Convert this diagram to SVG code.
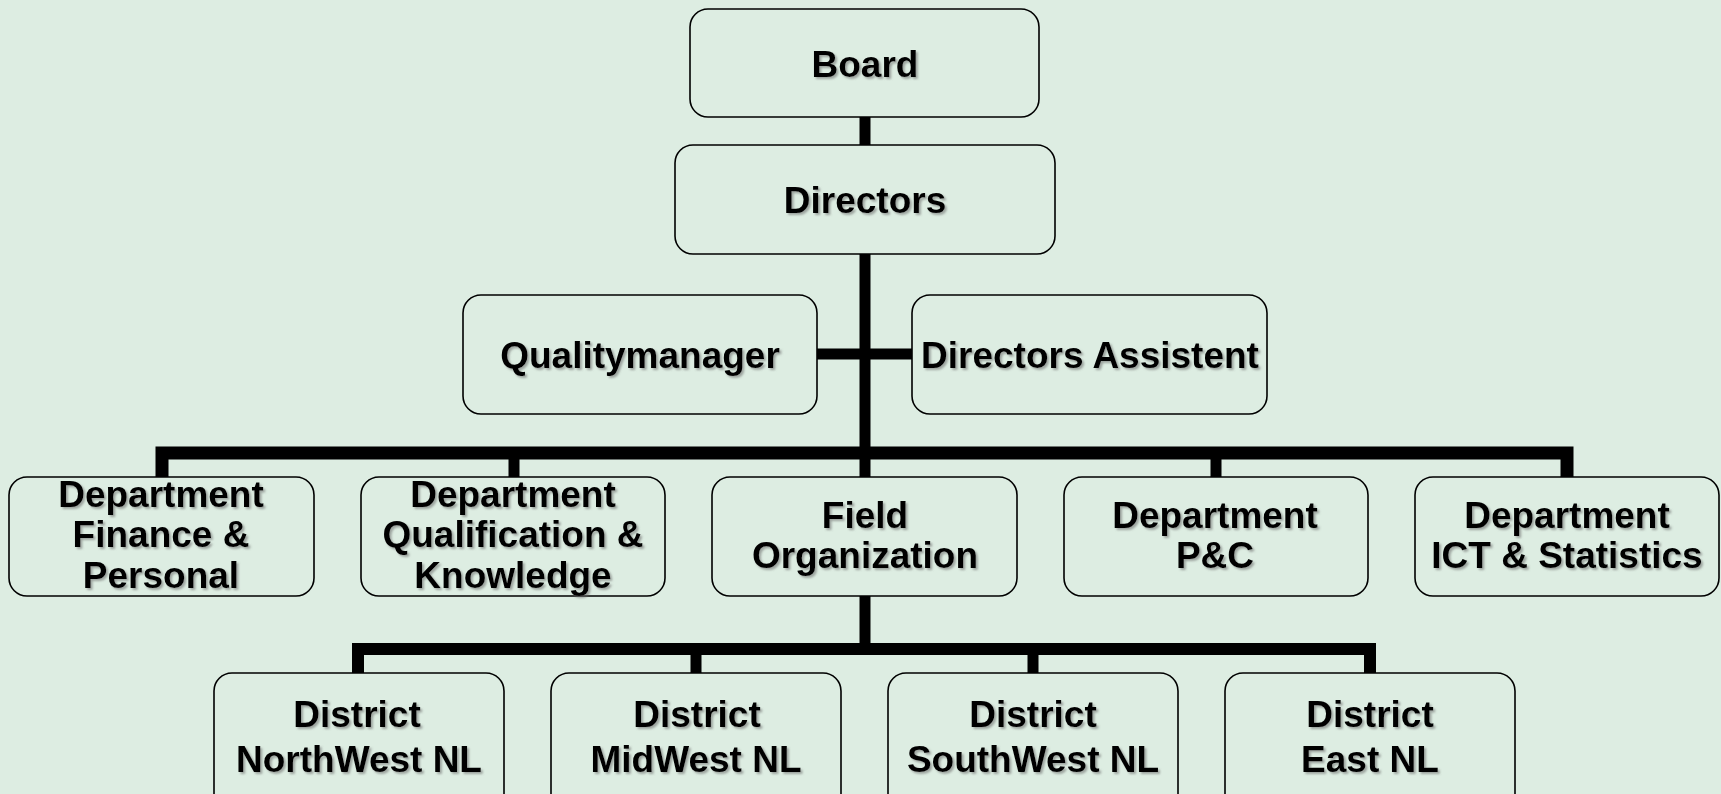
<svg xmlns="http://www.w3.org/2000/svg" width="1721" height="794" viewBox="0 0 1721 794">
<defs>
<filter id="sh" x="-10%" y="-20%" width="120%" height="150%">
<feDropShadow dx="2" dy="2" stdDeviation="1" flood-color="#666" flood-opacity="0.55"/>
</filter>
<style>
.box{fill:#ddede2;stroke:#000;stroke-width:1.6}
.t{font-family:"Liberation Sans",Arial,sans-serif;font-weight:bold;font-size:37px;fill:#000;text-anchor:middle;filter:url(#sh)}
.c{fill:none;stroke:#000;stroke-linecap:butt}
</style>
</defs>
<rect width="1721" height="794" fill="#ddede2"/>
<g id="connectors">
<path class="c" d="M865 116V146" stroke-width="11" stroke-linecap="round"/>
<path class="c" d="M865 250V478" stroke-width="11"/>
<path class="c" d="M813 354H915" stroke-width="11"/>
<path class="c" d="M162 477V453H1567V477" stroke-width="13"/>
<path class="c" d="M514 453V477M1216 453V477" stroke-width="11"/>
<path class="c" d="M865 594V648" stroke-width="11"/>
<path class="c" d="M358 674V649H1370V674" stroke-width="12"/>
<path class="c" d="M696 649V674M1033 649V674" stroke-width="11"/>
</g>
<g id="board"><rect class="box" x="690" y="9" width="349" height="108" rx="18"/><text class="t" x="865" y="77">Board</text></g>
<g id="directors"><rect class="box" x="675" y="145" width="380" height="109" rx="18"/><text class="t" x="865" y="213">Directors</text></g>
<g id="qualitymanager"><rect class="box" x="463" y="295" width="354" height="119" rx="18"/><text class="t" x="640" y="368">Qualitymanager</text></g>
<g id="directors-assistent"><rect class="box" x="912" y="295" width="355" height="119" rx="18"/><text class="t" x="1090" y="368">Directors Assistent</text></g>
<g id="dept-finance"><rect class="box" x="9" y="477" width="305" height="119" rx="18"/><text class="t" x="161" y="507">Department</text><text class="t" x="161" y="547">Finance &amp;</text><text class="t" x="161" y="588">Personal</text></g>
<g id="dept-qualification"><rect class="box" x="361" y="477" width="304" height="119" rx="18"/><text class="t" x="513" y="507">Department</text><text class="t" x="513" y="547">Qualification &amp;</text><text class="t" x="513" y="588">Knowledge</text></g>
<g id="field-organization"><rect class="box" x="712" y="477" width="305" height="119" rx="18"/><text class="t" x="865" y="528">Field</text><text class="t" x="865" y="568">Organization</text></g>
<g id="dept-pc"><rect class="box" x="1064" y="477" width="304" height="119" rx="18"/><text class="t" x="1215" y="528">Department</text><text class="t" x="1215" y="568">P&amp;C</text></g>
<g id="dept-ict"><rect class="box" x="1415" y="477" width="304" height="119" rx="18"/><text class="t" x="1567" y="528">Department</text><text class="t" x="1567" y="568">ICT &amp; Statistics</text></g>
<g id="district-northwest"><rect class="box" x="214" y="673" width="290" height="140" rx="18"/><text class="t" x="357" y="727">District</text><text class="t" x="359" y="772">NorthWest NL</text></g>
<g id="district-midwest"><rect class="box" x="551" y="673" width="290" height="140" rx="18"/><text class="t" x="697" y="727">District</text><text class="t" x="696" y="772">MidWest NL</text></g>
<g id="district-southwest"><rect class="box" x="888" y="673" width="290" height="140" rx="18"/><text class="t" x="1033" y="727">District</text><text class="t" x="1033" y="772">SouthWest NL</text></g>
<g id="district-east"><rect class="box" x="1225" y="673" width="290" height="140" rx="18"/><text class="t" x="1370" y="727">District</text><text class="t" x="1370" y="772">East NL</text></g>
</svg>
